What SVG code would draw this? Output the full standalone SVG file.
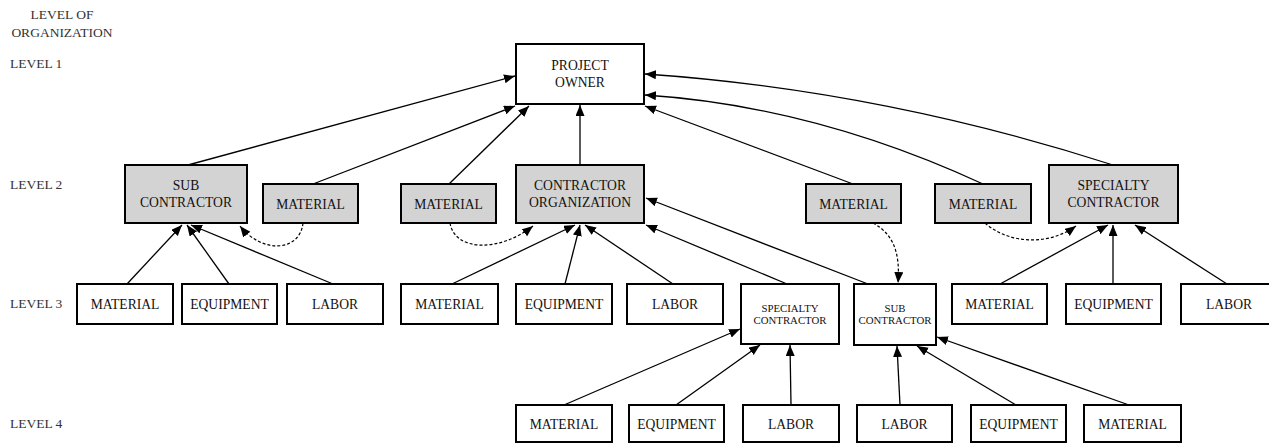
<svg xmlns="http://www.w3.org/2000/svg" width="1269" height="444" viewBox="0 0 1269 444">
<style>
.bx{fill:#fff;stroke:#000;stroke-width:2}
.gr{fill:#d3d3d3;stroke:#000;stroke-width:2}
.t{font-family:"Liberation Serif","Times New Roman",serif;font-size:13.6px;fill:#111;text-anchor:middle}
.ts{font-family:"Liberation Serif","Times New Roman",serif;font-size:10.8px;fill:#111;text-anchor:middle}
.lv{font-family:"Liberation Serif","Times New Roman",serif;font-size:13.5px;fill:#333}
.c{fill:none;stroke:#000;stroke-width:1.3;marker-end:url(#ah)}
.d{fill:none;stroke:#000;stroke-width:1.2;stroke-dasharray:3,2;marker-end:url(#ah)}
</style>
<defs>
<marker id="ah" markerUnits="userSpaceOnUse" markerWidth="12" markerHeight="10" refX="11" refY="4.5" orient="auto">
<path d="M0,0 L11,4.5 L0,9 Z" fill="#000"/>
</marker>
</defs>
<rect width="1269" height="444" fill="#fff"/>
<g id="levels">
<text class="lv" x="62" y="19" text-anchor="middle">LEVEL OF</text>
<text class="lv" x="62" y="37" text-anchor="middle">ORGANIZATION</text>
<text class="lv" x="10" y="68">LEVEL 1</text>
<text class="lv" x="10" y="189">LEVEL 2</text>
<text class="lv" x="10" y="308">LEVEL 3</text>
<text class="lv" x="10" y="428">LEVEL 4</text>
</g>
<g id="connectors">
<path class="c" d="M188,165 L515,76"/>
<path class="c" d="M313,184 L515,106"/>
<path class="c" d="M449,184 L529,106"/>
<path class="c" d="M580,165 L580,105"/>
<path class="c" d="M853,184 L645,106"/>
<path class="c" d="M983,184 Q814,106 645,95"/>
<path class="c" d="M1113,165 Q880,90 645,74"/>
<path class="c" d="M127,284 L182,225"/>
<path class="c" d="M229,284 L187,225"/>
<path class="c" d="M333,284 L191,225"/>
<path class="d" d="M303,223 C300,252 262,254 240,226"/>
<path class="c" d="M452,284 L575,225"/>
<path class="c" d="M565,284 L580,225"/>
<path class="c" d="M673,284 L585,225"/>
<path class="d" d="M450,223 C455,252 500,252 533,226"/>
<path class="c" d="M787,284 L646,225"/>
<path class="c" d="M868,284 L646,198"/>
<path class="d" d="M873,223 C895,235 900,255 898,283"/>
<path class="d" d="M985,223 C1010,245 1050,245 1076,226"/>
<path class="c" d="M1000,284 L1108,225"/>
<path class="c" d="M1113,284 L1113,225"/>
<path class="c" d="M1227,284 L1135,225"/>
<path class="c" d="M564,405 L740,329"/>
<path class="c" d="M676,405 L760,345"/>
<path class="c" d="M791,405 L790,345"/>
<path class="c" d="M900,405 L897,346"/>
<path class="c" d="M1016,405 L917,346"/>
<path class="c" d="M1129,405 L937,337"/>
</g>
<g id="project-owner"><rect class="bx" x="516" y="44" width="128" height="60"/><text class="t" x="580" y="70">PROJECT</text><text class="t" x="580" y="87">OWNER</text></g>
<g id="l2-sub-contractor"><rect class="gr" x="125" y="165" width="122" height="58"/><text class="t" x="186" y="190">SUB</text><text class="t" x="186" y="207">CONTRACTOR</text></g>
<g id="l2-material-1"><rect class="gr" x="263" y="184" width="95" height="39"/><text class="t" x="310.5" y="209">MATERIAL</text></g>
<g id="l2-material-2"><rect class="gr" x="401" y="184" width="95" height="39"/><text class="t" x="448.5" y="209">MATERIAL</text></g>
<g id="l2-contractor-org"><rect class="gr" x="516" y="165" width="128" height="58"/><text class="t" x="580" y="190">CONTRACTOR</text><text class="t" x="580" y="207">ORGANIZATION</text></g>
<g id="l2-material-3"><rect class="gr" x="806" y="184" width="95" height="39"/><text class="t" x="853.5" y="209">MATERIAL</text></g>
<g id="l2-material-4"><rect class="gr" x="935" y="184" width="96" height="39"/><text class="t" x="983" y="209">MATERIAL</text></g>
<g id="l2-specialty"><rect class="gr" x="1049" y="165" width="129" height="58"/><text class="t" x="1113.5" y="190">SPECIALTY</text><text class="t" x="1113.5" y="207">CONTRACTOR</text></g>
<g id="l3-material-a"><rect class="bx" x="77" y="284" width="96" height="40"/><text class="t" x="125" y="309">MATERIAL</text></g>
<g id="l3-equipment-a"><rect class="bx" x="182" y="284" width="95" height="40"/><text class="t" x="229.5" y="309">EQUIPMENT</text></g>
<g id="l3-labor-a"><rect class="bx" x="287" y="284" width="96" height="40"/><text class="t" x="335" y="309">LABOR</text></g>
<g id="l3-material-b"><rect class="bx" x="401" y="284" width="97" height="40"/><text class="t" x="449.5" y="309">MATERIAL</text></g>
<g id="l3-equipment-b"><rect class="bx" x="516" y="284" width="96" height="40"/><text class="t" x="564" y="309">EQUIPMENT</text></g>
<g id="l3-labor-b"><rect class="bx" x="627" y="284" width="96" height="40"/><text class="t" x="675" y="309">LABOR</text></g>
<g id="l3-specialty"><rect class="bx" x="741" y="284" width="98" height="60"/><text class="ts" x="790" y="312">SPECIALTY</text><text class="ts" x="790" y="324">CONTRACTOR</text></g>
<g id="l3-sub-contractor"><rect class="bx" x="854" y="284" width="82" height="61"/><text class="ts" x="895" y="312">SUB</text><text class="ts" x="895" y="324">CONTRACTOR</text></g>
<g id="l3-material-c"><rect class="bx" x="952" y="284" width="95" height="40"/><text class="t" x="999.5" y="309">MATERIAL</text></g>
<g id="l3-equipment-c"><rect class="bx" x="1066" y="284" width="95" height="40"/><text class="t" x="1113.5" y="309">EQUIPMENT</text></g>
<g id="l3-labor-c"><rect class="bx" x="1181" y="284" width="96" height="40"/><text class="t" x="1229" y="309">LABOR</text></g>
<g id="l4-material-a"><rect class="bx" x="516" y="405" width="96" height="37"/><text class="t" x="564" y="429">MATERIAL</text></g>
<g id="l4-equipment-a"><rect class="bx" x="629" y="405" width="95" height="37"/><text class="t" x="676.5" y="429">EQUIPMENT</text></g>
<g id="l4-labor-a"><rect class="bx" x="743" y="405" width="96" height="37"/><text class="t" x="791" y="429">LABOR</text></g>
<g id="l4-labor-b"><rect class="bx" x="857" y="405" width="95" height="37"/><text class="t" x="904.5" y="429">LABOR</text></g>
<g id="l4-equipment-b"><rect class="bx" x="971" y="405" width="95" height="37"/><text class="t" x="1018.5" y="429">EQUIPMENT</text></g>
<g id="l4-material-b"><rect class="bx" x="1084" y="405" width="97" height="37"/><text class="t" x="1132.5" y="429">MATERIAL</text></g>
</svg>
